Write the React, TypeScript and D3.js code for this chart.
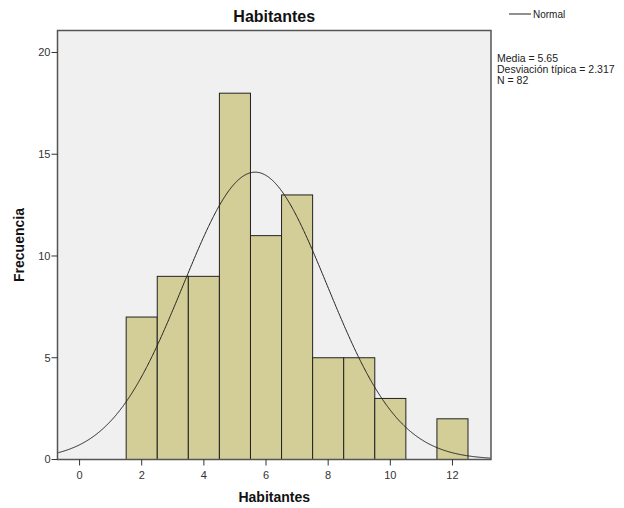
import * as React from "react"
import * as d3 from "d3"

const binCenters = [2, 3, 4, 5, 6, 7, 8, 9, 10, 12]
const counts = [7, 9, 9, 18, 11, 13, 5, 5, 3, 2]
const xTicks = [0, 2, 4, 6, 8, 10, 12]
const yTicks = [0, 5, 10, 15, 20]
const mean = 5.65
const sd = 2.317
const n = 82
const statLines = ["Media = 5.65", "Desviación típica = 2.317", "N = 82"]

const W = 624
const H = 508
const left = 57.5
const right = 491
const top = 30.5
const bottom = 459.5
const font = "'Liberation Sans', Arial, sans-serif"

export default function App() {
  const x = d3.scaleLinear().domain([-0.71, 13.24]).range([left, right])
  const y = d3.scaleLinear().domain([0, 21.08]).range([bottom, top])

  // normal curve scaled to counts (bin width 1)
  const pdf = (v: number) =>
    (n / (sd * Math.sqrt(2 * Math.PI))) * Math.exp(-0.5 * ((v - mean) / sd) ** 2)
  const curvePts = d3.range(-0.71, 13.24, 0.02).map((v) => [v, pdf(v)] as [number, number])
  const line = d3
    .line<[number, number]>()
    .x((d) => x(d[0]))
    .y((d) => y(d[1]))
    .curve(d3.curveBasis)

  return (
    <svg width={W} height={H} style={{ position: "absolute", left: 0, top: 0, background: "#fff" }}>
      <defs>
        <clipPath id="plot">
          <rect x={left} y={top} width={right - left} height={bottom - top} />
        </clipPath>
      </defs>
      <rect x={left} y={top} width={right - left} height={bottom - top} fill="#f0f0f0" />
      {binCenters.map((c, i) => (
        <rect
          key={c}
          x={x(c - 0.5)}
          y={y(counts[i])}
          width={x(c + 0.5) - x(c - 0.5)}
          height={bottom - y(counts[i])}
          fill="#d3ce97"
          stroke="#222"
          strokeWidth={1}
        />
      ))}
      <path d={line(curvePts) ?? ""} fill="none" stroke="#222" strokeWidth={1} clipPath="url(#plot)" />
      <rect x={left} y={top} width={right - left} height={bottom - top} fill="none" stroke="#555" strokeWidth={1.5} />

      {yTicks.map((t) => (
        <g key={t} transform={`translate(0,${y(t)})`}>
          <line x1={left - 6} x2={left} stroke="#333" strokeWidth={1} />
          <text x={left - 7} dy="0.35em" textAnchor="end" fontFamily={font} fontSize={11} fill="#333">
            {t}
          </text>
        </g>
      ))}
      {xTicks.map((t) => (
        <g key={t} transform={`translate(${x(t)},0)`}>
          <line y1={bottom} y2={bottom + 6} stroke="#333" strokeWidth={1} />
          <text y={bottom + 19} textAnchor="middle" fontFamily={font} fontSize={11} fill="#333">
            {t}
          </text>
        </g>
      ))}

      <text x={(left + right) / 2} y={22} textAnchor="middle" fontFamily={font} fontSize={16} fontWeight="bold" fill="#111">
        Habitantes
      </text>
      <text x={(left + right) / 2} y={502} textAnchor="middle" fontFamily={font} fontSize={14} fontWeight="bold" fill="#111">
        Habitantes
      </text>
      <text
        transform={`translate(24,${(top + bottom) / 2}) rotate(-90)`}
        textAnchor="middle"
        fontFamily={font}
        fontSize={14}
        fontWeight="bold"
        fill="#111"
      >
        Frecuencia
      </text>

      <line x1={509} x2={531} y1={14} y2={14} stroke="#222" strokeWidth={1} />
      <text x={533} y={18} fontFamily={font} fontSize={10} fill="#222">
        Normal
      </text>
      {statLines.map((s, i) => (
        <text key={s} x={497} y={62 + i * 11} fontFamily={font} fontSize={10.5} fill="#222">
          {s}
        </text>
      ))}
    </svg>
  )
}
